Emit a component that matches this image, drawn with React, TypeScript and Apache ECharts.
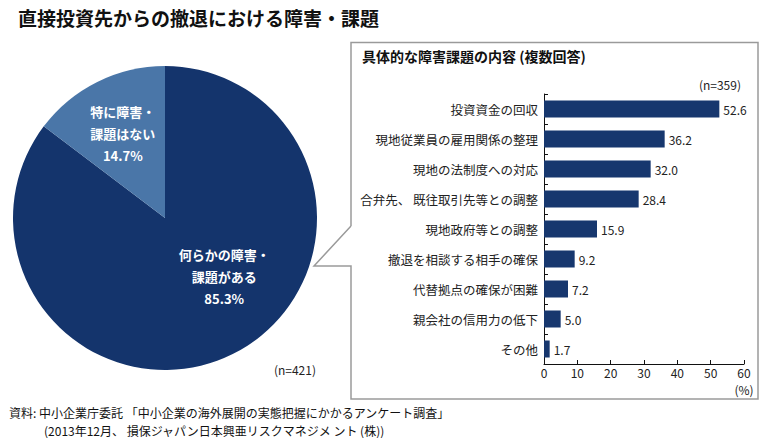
import React, { useEffect, useRef } from "react";
import * as echarts from "echarts";

const pieNames = ["何らかの障害・\n課題がある", "特に障害・\n課題はない"];
const pieValues = [85.3, 14.7];
const pieColors = ["#14346c", "#4a76a8"];

const barCategories = [
  "投資資金の回収",
  "現地従業員の雇用関係の整理",
  "現地の法制度への対応",
  "合弁先、 既往取引先等との調整",
  "現地政府等との調整",
  "撤退を相談する相手の確保",
  "代替拠点の確保が困難",
  "親会社の信用力の低下",
  "その他",
];
const barValues = [52.6, 36.2, 32.0, 28.4, 15.9, 9.2, 7.2, 5.0, 1.7];
const xTicks = [0, 10, 20, 30, 40, 50, 60];

const FONT = '"Noto Sans CJK JP", "Noto Sans", sans-serif';

export default function App() {
  const ref = useRef<HTMLDivElement>(null);
  useEffect(() => {
    if (!ref.current) return;
    const chart = echarts.init(ref.current, null, { renderer: "svg" });
    chart.setOption({
      animation: false,
      backgroundColor: "#ffffff",
      textStyle: { fontFamily: FONT },
      graphic: [
        {
          type: "polyline",
          shape: {
            points: [
              [351, 226],
              [351, 42.5],
              [758, 42.5],
              [758, 399],
              [351, 399],
              [351, 266],
              [314, 266],
              [351, 226],
            ],
          },
          style: { stroke: "#9a9a9a", lineWidth: 1.5, fill: null },
          z: 0,
        },
        {
          type: "text",
          left: 18,
          top: 8,
          style: { text: "直接投資先からの撤退における障害・課題", font: `bold 19px ${FONT}`, fill: "#111" },
        },
        {
          type: "text",
          left: 362,
          top: 49,
          style: { text: "具体的な障害課題の内容 (複数回答)", font: `bold 14px ${FONT}`, fill: "#111" },
        },
        {
          type: "text",
          x: 741,
          y: 84,
          style: { text: "(n=359)", font: `12px ${FONT}`, fill: "#222", align: "right", verticalAlign: "middle" },
        },
        {
          type: "text",
          x: 744,
          y: 389,
          style: { text: "(%)", font: `12px ${FONT}`, fill: "#222", align: "center", verticalAlign: "middle" },
        },
        {
          type: "text",
          x: 316,
          y: 369,
          style: { text: "(n=421)", font: `12px ${FONT}`, fill: "#222", align: "right", verticalAlign: "middle" },
        },
        {
          type: "text",
          x: 9,
          y: 412,
          style: {
            text: "資料: 中小企業庁委託 「中小企業の海外展開の実態把握にかかるアンケート調査」",
            font: `12px ${FONT}`,
            fill: "#111",
            verticalAlign: "middle",
          },
        },
        {
          type: "text",
          x: 44,
          y: 430,
          style: {
            text: "(2013年12月、 損保ジャパン日本興亜リスクマネジメ ント (株))",
            font: `12px ${FONT}`,
            fill: "#111",
            verticalAlign: "middle",
          },
        },
      ],
      grid: { left: 544, right: 24, top: 94, bottom: 74 },
      xAxis: {
        type: "value",
        min: 0,
        max: 60,
        interval: 10,
        splitLine: { show: false },
        axisLine: { show: true, lineStyle: { color: "#111", width: 1 } },
        axisTick: { show: true, inside: true, length: 4, lineStyle: { color: "#111" } },
        axisLabel: {
          color: "#222",
          fontSize: 12,
          margin: 2,
          lineHeight: 13,
          formatter: (v: number) => (xTicks.includes(v) ? String(v) : ""),
        },
      },
      yAxis: {
        type: "category",
        inverse: true,
        data: barCategories,
        axisLine: { show: true, lineStyle: { color: "#111", width: 1 } },
        axisTick: { show: true, inside: true, length: 4, lineStyle: { color: "#111" } },
        axisLabel: { color: "#222", fontSize: 12.5, margin: 6 },
      },
      series: [
        {
          type: "bar",
          data: barValues,
          barWidth: 17,
          itemStyle: { color: "#17376e" },
          label: {
            show: true,
            position: "right",
            distance: 4,
            color: "#222",
            fontSize: 12,
            formatter: (p: any) => p.value.toFixed(1),
          },
        },
        {
          type: "pie",
          center: [165, 218],
          radius: [0, 152],
          startAngle: 90,
          clockwise: true,
          data: pieValues.map((v, i) => ({
            name: pieNames[i],
            value: v,
            itemStyle: { color: pieColors[i] },
          })),
          label: {
            show: true,
            position: "inside",
            color: "#ffffff",
            fontSize: 13,
            fontWeight: "bold",
            lineHeight: 22,
            align: "center",
            formatter: (p: any) => `${p.name}\n${p.value.toFixed(1)}%`,
          },
          labelLayout: (params: any) =>
            params.dataIndex === 0 ? { dx: 24, dy: -12 } : { dx: -7, dy: -14 },
          emphasis: { disabled: true },
        },
      ],
    });
    return () => chart.dispose();
  }, []);
  return <div ref={ref} style={{ position: "fixed", left: 0, top: 0, width: 768, height: 438 }} />;
}
